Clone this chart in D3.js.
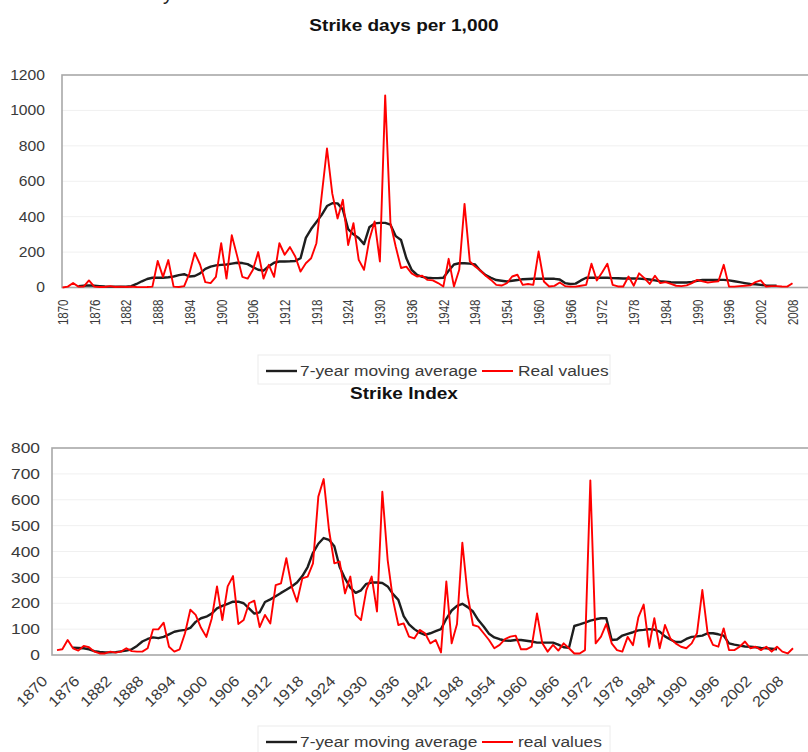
<!DOCTYPE html>
<html>
<head>
<meta charset="utf-8">
<script src="https://cdn.jsdelivr.net/npm/d3@7"></script>
<style>
body { margin: 0; background: #fff; }
text { font-family: "Liberation Sans", Arial, sans-serif; }
</style>
</head>
<body>
<script>
// years and ticks shared by both panels
var years = d3.range(1870, 2009);
var avgYears = d3.range(1873, 2006);
var xTickYears = d3.range(1870, 2009, 6);

var daysTicks = [0, 200, 400, 600, 800, 1000, 1200];
var indexTicks = [0, 100, 200, 300, 400, 500, 600, 700, 800];

var topLegend = ["7-year moving average", "Real values"];
var bottomLegend = ["7-year moving average", "real values"];

// strike days per 1,000, real values 1870-2008
var daysReal = [
    0, 5, 25, 5, 5, 40, 5, 3, 3, 8,
    3, 5, 3, 5, 3, 2, 3, 5, 150, 60,
    155, 5, 3, 8, 80, 195, 130, 30, 25, 60,
    250, 50, 295, 180, 60, 50, 100, 200, 50, 128,
    60, 250, 185, 228, 175, 90, 137, 165, 250, 520,
    785, 530, 390, 495, 240, 363, 156, 100, 270, 373,
    147, 1085, 363, 230, 110, 118, 80, 62, 66, 43,
    40, 25, 6, 162, 6, 100, 472, 147, 118, 96,
    66, 43, 15, 11, 24, 62, 72, 15, 20, 15,
    203, 34, 6, 9, 28, 8, 5, 5, 10, 15,
    134, 40, 85, 134, 15, 6, 6, 62, 10, 80,
    53, 20, 66, 25, 30, 20, 10, 8, 12, 25,
    43, 35, 28, 32, 35, 128, 5, 5, 8, 10,
    12, 30, 40, 5, 8, 8, 6, 5, 24
];

// strike days per 1,000, 7-year moving average 1873-2005
var daysAvg = [
    8, 10, 12, 10, 8, 6, 5,
    5, 5, 5, 8, 20, 35, 48, 55, 55, 55,
    58, 62, 70, 75, 62, 65, 80, 105, 118, 125,
    128, 130, 135, 140, 138, 132, 115, 100, 95, 120,
    140, 147, 147, 148, 150, 165, 280, 330, 370, 410,
    460, 476, 475, 440, 330, 300, 280, 245, 340, 362,
    365, 365, 355, 290, 268, 165, 100, 72, 60, 55,
    53, 53, 55, 95, 130, 137, 137, 135, 130, 95,
    70, 55, 42, 38, 34, 38, 42, 47, 48, 49,
    50, 49, 49, 49, 45, 25, 20, 22, 40, 55,
    55, 55, 55, 55, 53, 52, 51, 51, 51, 50,
    48, 45, 40, 35, 33, 30, 28, 28, 28, 32,
    38, 42, 43, 43, 43, 43, 40, 35, 30, 25,
    20, 18, 15, 12, 10, 10
];

// strike index, real values 1870-2008
var indexReal = [
    19, 22, 58, 26, 17, 35, 30, 13, 6, 6,
    13, 9, 13, 26, 15, 13, 13, 26, 99, 99,
    125, 32, 13, 22, 84, 175, 155, 105, 70, 140,
    265, 135, 265, 305, 120, 135, 200, 210, 108, 155,
    122, 270, 277, 374, 264, 206, 296, 303, 354, 612,
    680, 483, 354, 361, 238, 303, 155, 135, 251, 303,
    168, 631, 367, 213, 116, 122, 71, 64, 97, 84,
    45, 58, 10, 284, 45, 120, 434, 230, 116, 110,
    84, 58, 26, 39, 61, 71, 75, 22, 22, 32,
    161, 45, 13, 39, 17, 45, 26, 6, 6, 19,
    675, 45, 71, 120, 45, 19, 13, 70, 38, 145,
    195, 32, 142, 26, 116, 64, 45, 32, 26, 45,
    84, 251, 84, 39, 32, 103, 19, 19, 32, 52,
    26, 32, 19, 32, 13, 32, 13, 6, 26
];

// strike index, 7-year moving average 1873-2005
var indexAvg = [
    28, 27, 26, 22, 15, 12, 10,
    10, 11, 14, 17, 22, 35, 52, 62, 68, 65,
    70, 80, 90, 94, 97, 105, 128, 142, 148, 160,
    180, 190, 198, 206, 206, 200, 180, 160, 165, 205,
    215, 227, 240, 252, 265, 280, 305, 340, 395, 430,
    452, 445, 420, 340, 296, 260, 240, 250, 275, 280,
    280, 278, 265, 235, 213, 150, 118, 100, 86, 78,
    84, 92, 100, 140, 172, 190, 198, 185, 168, 135,
    110, 82, 68, 61, 56, 55, 58, 58, 55, 52,
    48, 48, 48, 48, 40, 30, 28, 112, 118, 125,
    133, 138, 142, 142, 58, 60, 75, 82, 88, 95,
    97, 100, 98, 90, 72, 60, 50, 50, 62, 70,
    72, 75, 84, 84, 80, 75, 45, 40, 36, 33,
    32, 30, 27, 26, 24, 22
];

var width = 808;
var height = 752;
var textColour = "#3a3a3a";

var svg = d3.select("body")
    .append("svg")
    .attr("width", width)
    .attr("height", height);

// the picture is a bit wider than tall, so text gets squeezed out sideways
function stretchText(parent, x, y, str, size, sx, anchor, weight) {
    return parent.append("text")
        .attr("transform", "translate(" + x + "," + y + ") scale(" + sx + ",1)")
        .attr("text-anchor", anchor || "start")
        .style("font-size", size + "px")
        .style("font-weight", weight || "normal")
        .style("fill", weight ? "#111" : textColour)
        .text(str);
}

function pairs(xs, vs) {
    return xs.map(function(d, i) { return {year: d, value: vs[i]}; });
}

// one panel: frame, grid, axes and the two lines
function drawPanel(p) {
    var x = d3.scaleLinear().domain([1870, 2008]).range([p.x0, p.x1]);
    var y = d3.scaleLinear().domain([0, p.ticks[p.ticks.length - 1]]).range([p.bottom, p.top]);
    var g = svg.append("g");

    // faint grid lines
    g.selectAll(".grid")
        .data(p.ticks.slice(1, -1))
        .enter().append("line")
        .attr("x1", p.left).attr("x2", width + 5)
        .attr("y1", function(d) { return y(d); })
        .attr("y2", function(d) { return y(d); })
        .attr("stroke", "#f0f0f0")
        .attr("stroke-width", 1);

    // plot frame
    g.append("rect")
        .attr("x", p.left).attr("y", p.top)
        .attr("width", width + 10 - p.left)
        .attr("height", p.bottom - p.top)
        .attr("fill", "none")
        .attr("stroke", "#a8a8a8")
        .attr("stroke-width", 1.6);

    // y axis labels
    var yAxis = g.append("g")
        .attr("transform", "translate(" + p.left + ",0)")
        .call(d3.axisLeft(y).tickValues(p.ticks).tickFormat(d3.format("d")).tickSize(0));
    yAxis.select(".domain").remove();
    yAxis.selectAll("text")
        .attr("x", -p.yPad / p.ySx)
        .attr("transform", "scale(" + p.ySx + ",1)")
        .style("font-size", p.yFont + "px")
        .style("fill", textColour);

    // x axis labels
    var xAxis = g.append("g")
        .attr("transform", "translate(0," + p.bottom + ")")
        .call(d3.axisBottom(x).tickValues(xTickYears).tickFormat(d3.format("d")).tickSize(0));
    xAxis.select(".domain").remove();
    var xt = xAxis.selectAll("text")
        .style("font-size", p.xFont + "px")
        .style("fill", textColour)
        .style("text-anchor", "end");
    if (p.rotate == -90) {
        xt.attr("transform", "rotate(-90) scale(1,1.2)")
            .attr("x", -12).attr("y", 0).attr("dy", "0.35em");
    } else {
        xt.attr("transform", "translate(-9,27) rotate(-45) scale(1.1,1)")
            .attr("x", 0).attr("y", 0).attr("dy", 0);
    }

    var line = d3.line()
        .x(function(d) { return x(d.year); })
        .y(function(d) { return y(d.value); });

    g.append("path")
        .datum(pairs(avgYears, p.avg))
        .attr("d", line)
        .attr("fill", "none")
        .attr("stroke", "#1e1e1e")
        .attr("stroke-width", 2.4)
        .attr("stroke-linejoin", "round");

    g.append("path")
        .datum(pairs(years, p.real))
        .attr("d", line)
        .attr("fill", "none")
        .attr("stroke", "#ff0000")
        .attr("stroke-width", 1.9)
        .attr("stroke-linejoin", "round");

    // title
    stretchText(svg, 404, p.titleY, p.title, 17, 1.12, "middle", "bold");

    // legend box with two entries
    var lg = svg.append("g");
    lg.append("rect")
        .attr("x", 258).attr("y", p.legendY - 16)
        .attr("width", 352).attr("height", 29)
        .attr("fill", "#fff")
        .attr("stroke", "#ececec");
    lg.append("line")
        .attr("x1", 266).attr("x2", 297)
        .attr("y1", p.legendY).attr("y2", p.legendY)
        .attr("stroke", "#1e1e1e").attr("stroke-width", 2.4);
    stretchText(lg, 300, p.legendY + 5, p.legend[0], 15.5, 1.12);
    lg.append("line")
        .attr("x1", 482).attr("x2", 513)
        .attr("y1", p.legendY).attr("y2", p.legendY)
        .attr("stroke", "#ff0000").attr("stroke-width", 2);
    stretchText(lg, 518, p.legendY + 5, p.legend[1], 15.5, 1.12);
}

drawPanel({
    title: "Strike days per 1,000", titleY: 31,
    left: 62, top: 75, bottom: 287.5, x0: 62.5, x1: 792.5,
    ticks: daysTicks, yPad: 17, yFont: 14, ySx: 1.12,
    xFont: 11.5, rotate: -90,
    real: daysReal, avg: daysAvg,
    legend: topLegend, legendY: 371
});

drawPanel({
    title: "Strike Index", titleY: 399,
    left: 52, top: 448, bottom: 655, x0: 57, x1: 793,
    ticks: indexTicks, yPad: 12, yFont: 14.5, ySx: 1.2,
    xFont: 15, rotate: -45,
    real: indexReal, avg: indexAvg,
    legend: bottomLegend, legendY: 742
});

// tail of a heading cut off above the picture
svg.append("text")
    .attr("x", 163).attr("y", 0)
    .style("font-size", "20px")
    .style("fill", "#222")
    .text("y");
</script>
</body>
</html>
